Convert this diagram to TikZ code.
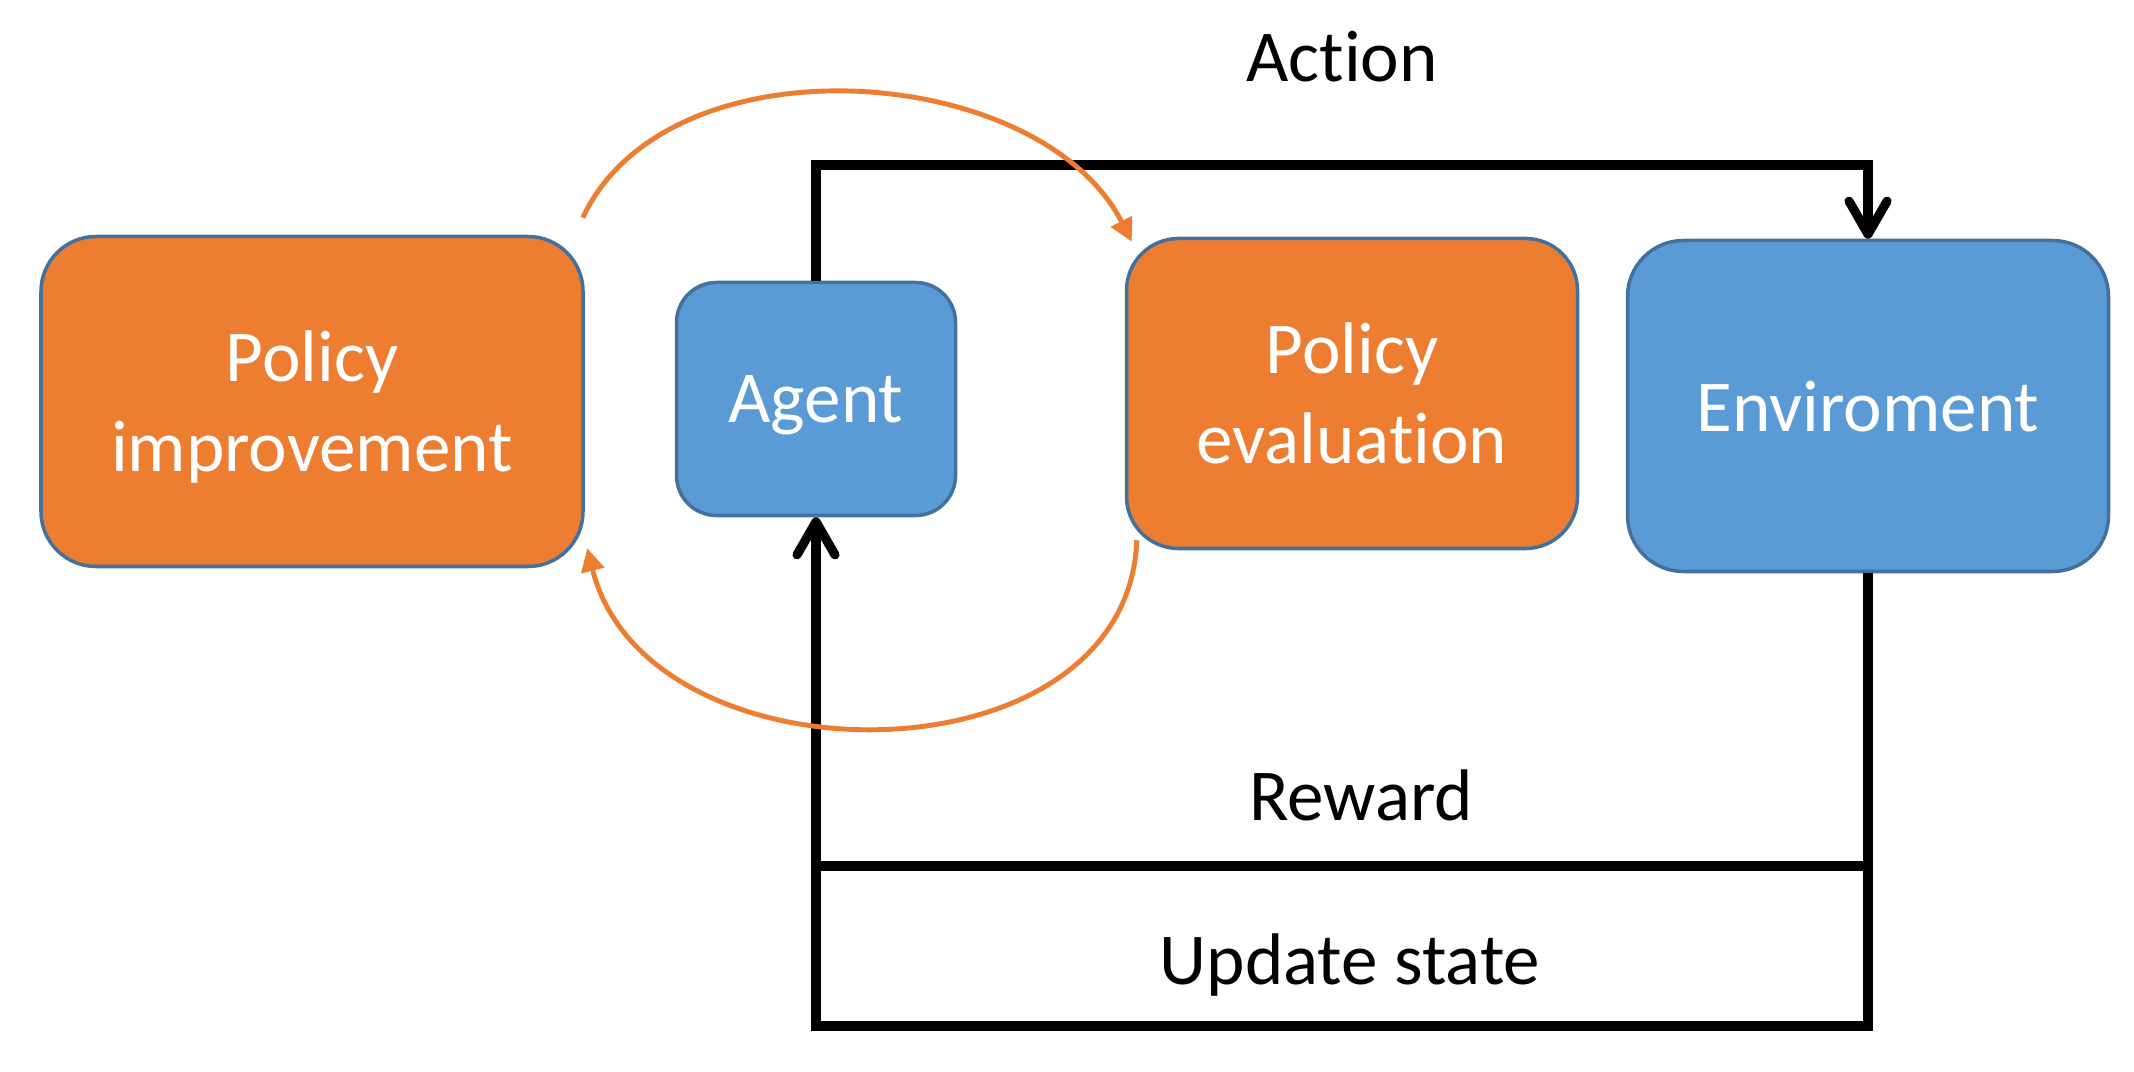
\documentclass[tikz,border=0pt]{standalone}
\usepackage{fontspec}
\setmainfont{Carlito}[Ligatures=NoCommon]
\usepackage{tikz}
\usetikzlibrary{arrows.meta}
\usepackage{xcolor}
\definecolor{orng}{HTML}{ED7D31}
\definecolor{blu}{HTML}{5B9BD5}
\definecolor{bordc}{HTML}{41719C}
\newcommand{\bigfont}{\fontsize{20.8}{25.6}\selectfont}

\begin{document}
\begin{tikzpicture}[
  box/.style={draw=bordc, line width=1pt, text=white, align=center, inner sep=0pt, text depth=0pt, font=\bigfont},
  obox/.style={box, fill=orng},
  bbox/.style={box, fill=blu},
  lbl/.style={font=\bigfont, inner sep=0pt, anchor=base},
  flow/.style={line width=2.6pt, black},
  vtip/.style={-{Straight Barb[length=3.3mm, width=3.8mm, round]}},
  cyc/.style={orng, line width=1.4pt, -{Triangle[length=2.3mm, width=2.3mm]}}]
\useasboundingbox (0,0) rectangle (21.34,10.71);
% boxes
\node[obox, rounded corners=0.55cm, minimum width=5.42cm, minimum height=3.3cm] (pi) at (3.12,6.695) {Policy\\improvement};
\node[bbox, rounded corners=0.4cm, minimum width=2.79cm, minimum height=2.33cm] (agent) at (8.16,6.72) {Agent};
\node[obox, rounded corners=0.52cm, minimum width=4.51cm, minimum height=3.1cm] (pe) at (13.52,6.775) {Policy\\evaluation};
\node[bbox, rounded corners=0.56cm, minimum width=4.81cm, minimum height=3.31cm] (env) at (18.68,6.65) {Enviroment};
% labels
\node[lbl] (action) at (13.42,9.89) {Action};
\node[lbl] (reward) at (13.61,2.51) {Reward};
\node[lbl] (update) at (13.50,0.87) {Update state};
\coordinate (top) at (0,9.06);
\coordinate (rw) at (0,2.05);
\coordinate (bot) at (0,0.45);
% agent - environment loop
\draw[flow, vtip] (agent.north) -- (agent.north |- top) -| (env.north);
\draw[flow, vtip] (env.south) -- (env.south |- bot) -- (agent.south |- bot) -- (agent.south);
\draw[flow] (agent.south |- rw) -- (env.south |- rw);
% policy iteration
\draw[cyc] ([xshift=-0.02cm, yshift=0.17cm]pi.north east) to[out=65, in=117, looseness=0.94] ([xshift=0.07cm, yshift=-0.05cm]pe.north west);
\draw[cyc] ([xshift=0.12cm, yshift=0.1cm]pe.south west) to[out=-92, in=-76, looseness=1.15] ([xshift=0.025cm, yshift=0.2cm]pi.south east);
\end{tikzpicture}
\end{document}
